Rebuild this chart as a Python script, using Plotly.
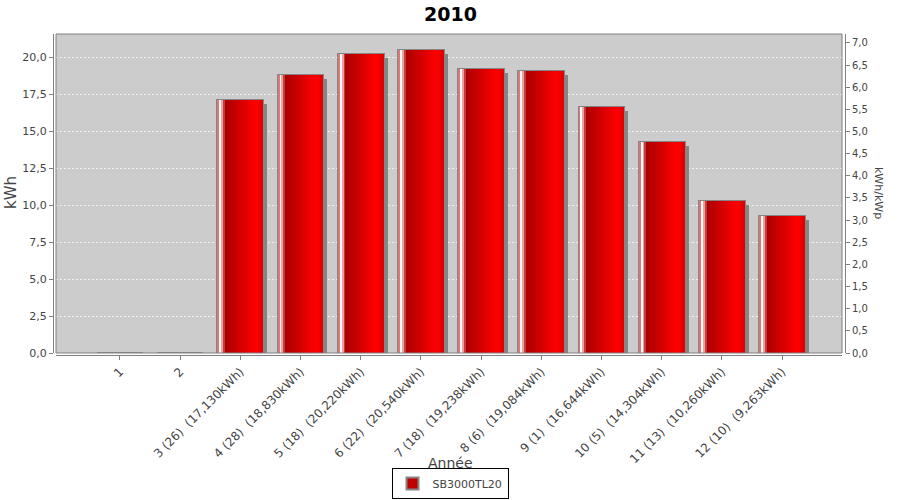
import plotly.graph_objects as go

# ---------------- data ----------------
months = ["1", "2", "3 (26) \u00a0(17,130kWh)", "4 (28) \u00a0(18,830kWh)", "5 (18) \u00a0(20,220kWh)",
          "6 (22) \u00a0(20,540kWh)", "7 (18) \u00a0(19,238kWh)", "8 (6) \u00a0(19,084kWh)",
          "9 (1) \u00a0(16,644kWh)", "10 (5) \u00a0(14,304kWh)", "11 (13) \u00a0(10,260kWh)",
          "12 (10) \u00a0(9,263kWh)"]
kwh = [0, 0, 17.130, 18.830, 20.220, 20.540, 19.238, 19.084, 16.644, 14.304, 10.260, 9.263]
series_name = "SB3000TL20"
title_text = "2010"

# ---------------- styling ----------------
W, H = 900, 500
L, R, T, B = 53, 55, 34, 145
pw, ph = W - L - R, H - T - B
BAR_W = 0.76
N = 24
stops = [(0.00, (200, 50, 50)), (0.06, (255, 255, 255)), (0.11, (235, 150, 150)),
         (0.17, (170, 0, 0)), (0.84, (255, 0, 0)), (1.00, (222, 0, 0))]


def col(f):
    for (a, ca), (b, cb) in zip(stops[:-1], stops[1:]):
        if a <= f <= b:
            t = (f - a) / (b - a) if b > a else 0
            c = [round(ca[k] + (cb[k] - ca[k]) * t) for k in range(3)]
            return f"rgb({c[0]},{c[1]},{c[2]})"
    return "rgb(222,0,0)"


fig = go.Figure()
px_per_cat = 786 / 13.06
px_per_unit = 319 / 21.6
shadow_dx = 4 / px_per_cat
shadow_dy = 4 / px_per_unit

# shadow (shifted down by a constant base offset)
fig.add_trace(go.Bar(x=months, y=kwh, base=-shadow_dy, offset=-BAR_W / 2 + shadow_dx, width=BAR_W,
                     marker=dict(color="#868686", line=dict(width=0)), showlegend=False,
                     hoverinfo="skip"))
# outline / legend trace
fig.add_trace(go.Bar(x=months, y=kwh, offset=-BAR_W / 2, width=BAR_W, name=series_name,
                     marker=dict(color="#c00000", line=dict(color="#858585", width=2))))
# gradient slices
w = BAR_W / N
for i in range(N):
    f = (i + 0.5) / N
    fig.add_trace(go.Bar(x=months, y=kwh, offset=-BAR_W / 2 + i * w, width=BAR_W - i * w,
                         marker=dict(color=col(f), line=dict(width=0)), showlegend=False,
                         hoverinfo="skip"))
fig.add_trace(go.Scatter(x=[months[0]], y=[0], yaxis="y2", mode="markers",
                         marker=dict(opacity=0), showlegend=False, hoverinfo="skip"))

tickfont = dict(family="DejaVu Sans", size=11, color="#444444")
fig.update_layout(
    width=W, height=H,
    margin=dict(l=L, r=R, t=T, b=B, autoexpand=False),
    paper_bgcolor="white", plot_bgcolor="#cccccc",
    barmode="overlay", bargap=0,
    separators=", ",
    showlegend=True,
    legend=dict(x=(450 - L) / pw, xanchor="center", y=(355 - 499) / ph, yanchor="bottom",
                bordercolor="black", borderwidth=1, bgcolor="white",
                font=dict(family="DejaVu Sans", size=11, color="#444444"),
                itemwidth=30, tracegroupgap=0),
    xaxis=dict(domain=[3 / pw, 1 - 3 / pw], range=[-1.063, 11.997], type="category",
               anchor="free", position=0, showline=True, linecolor="#808080", linewidth=1,
               ticks="outside", ticklen=4, tickcolor="#808080", tickangle=-45, automargin=False,
               tickfont=dict(family="DejaVu Sans", size=12, color="#444444"),
               showgrid=False, zeroline=False),
    yaxis=dict(domain=[2 / ph, 1], range=[0, 21.6], anchor="free", position=0, automargin=False,
               showline=True, linecolor="#808080", linewidth=1, ticks="outside", ticklen=4,
               tickcolor="#808080", tick0=0, dtick=2.5, tickformat=".1f", tickfont=tickfont,
               showgrid=True, gridcolor="#f2f2f2", griddash="2px,2px", gridwidth=1, zeroline=False),
    yaxis2=dict(domain=[2 / ph, 1], range=[0, 7.2], overlaying="y", anchor="free", position=1,
                side="right", showline=True, linecolor="#808080", linewidth=1, ticks="outside",
                ticklen=4, tickcolor="#808080", tick0=0, dtick=0.5, tickformat=".1f",
                automargin=False,
                tickfont=dict(family="DejaVu Sans", size=10, color="#444444"),
                showgrid=False, zeroline=False),
    shapes=[dict(type="rect", xref="x domain", yref="y domain", x0=0, x1=1, y0=0, y1=1,
                 line=dict(color="#808080", width=1), fillcolor="rgba(0,0,0,0)", layer="above")],
    annotations=[
        dict(text=title_text, xref="paper", yref="paper", x=(450 - L) / pw, y=(355 - 14) / ph,
             xanchor="center", yanchor="middle", showarrow=False,
             font=dict(family="DejaVu Sans", size=19, color="black", weight="bold")),
        dict(text="kWh", xref="paper", yref="paper", x=(11 - L) / pw, y=(355 - 193) / ph,
             xanchor="center", yanchor="middle", textangle=-90, showarrow=False,
             font=dict(family="DejaVu Sans", size=15, color="#444444")),
        dict(text="kWh/kWp", xref="paper", yref="paper", x=(879 - L) / pw, y=(355 - 193) / ph,
             xanchor="center", yanchor="middle", textangle=90, showarrow=False,
             font=dict(family="DejaVu Sans", size=11, color="#444444")),
        dict(text="Année", xref="paper", yref="paper", x=(450 - L) / pw, y=(355 - 463) / ph,
             xanchor="center", yanchor="middle", showarrow=False,
             font=dict(family="DejaVu Sans", size=14, color="#444444")),
    ],
)

fig.write_html("out.html", config={"displayModeBar": False},
               post_script="document.body.style.margin='0';document.body.style.padding='0';")
